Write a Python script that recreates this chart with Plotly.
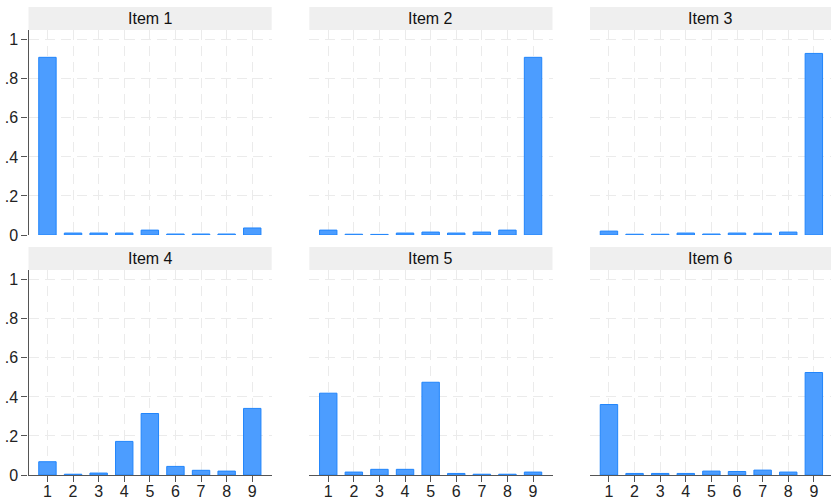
import plotly.graph_objects as go

categories = [1, 2, 3, 4, 5, 6, 7, 8, 9]
item_titles = ["Item 1", "Item 2", "Item 3", "Item 4", "Item 5", "Item 6"]

item1 = [0.910, 0.010, 0.010, 0.010, 0.025, 0.005, 0.005, 0.005, 0.036]
item2 = [0.025, 0.004, 0.003, 0.010, 0.015, 0.010, 0.015, 0.025, 0.910]
item3 = [0.020, 0.004, 0.004, 0.010, 0.005, 0.010, 0.009, 0.015, 0.930]
item4 = [0.068, 0.004, 0.010, 0.172, 0.315, 0.044, 0.024, 0.020, 0.341]
item5 = [0.419, 0.015, 0.029, 0.029, 0.475, 0.008, 0.004, 0.004, 0.015]
item6 = [0.361, 0.008, 0.008, 0.008, 0.020, 0.018, 0.025, 0.015, 0.525]

y_tickvals = [0, 0.2, 0.4, 0.6, 0.8, 1.0]
y_ticktext = ["0", ".2", ".4", ".6", ".8", "1"]
x_ticktext = ["1", "2", "3", "4", "5", "6", "7", "8", "9"]

series = [item1, item2, item3, item4, item5, item6]

W, H = 831, 498
col_px = [(28.5, 271.7), (309.3, 552.5), (590.0, 831.0)]
col_range = [[0.26, 9.76], [0.26, 9.76], [0.26, 9.67]]
row_px = [(30, 235), (270, 475)]
strip_px = [(7, 30), (247, 270)]

FONT = "Liberation Sans, Arial, Helvetica, sans-serif"
BAR_FILL = "#4c9dff"
BAR_LINE = "#2185fb"
GRID = "#ebebeb"
AXIS = "#555555"

fig = go.Figure()
layout = dict(
    template="none",
    width=W, height=H,
    margin=dict(l=0, r=0, t=0, b=0, pad=0, autoexpand=False),
    paper_bgcolor="white", plot_bgcolor="white",
    showlegend=False,
    font=dict(family=FONT, size=16, color="#222222"),
)
shapes = []
annotations = []

for i, vals in enumerate(series):
    r, c = divmod(i, 3)
    k = i + 1
    xs = "" if k == 1 else str(k)
    x0, x1 = col_px[c]
    yt, yb = row_px[r]
    fig.add_trace(go.Bar(
        x=categories, y=vals, width=0.68,
        marker=dict(color=BAR_FILL, line=dict(color=BAR_LINE, width=1)),
        xaxis="x" + xs, yaxis="y" + xs, hoverinfo="x+y",
    ))
    bottom = (r == 1)
    left = (c == 0)
    layout["xaxis" + xs] = dict(
        domain=[x0 / W, x1 / W], anchor="y" + xs, range=col_range[c],
        automargin=False,
        tickmode="array", tickvals=categories, ticktext=x_ticktext,
        showgrid=True, gridcolor=GRID, gridwidth=1.3, griddash="10px,6px",
        zeroline=False,
        showline=bottom, linecolor=AXIS, linewidth=1.3,
        ticks="outside" if bottom else "", ticklen=6, tickcolor=AXIS, tickwidth=1.3,
        ticklabelstandoff=-4,
        showticklabels=bottom, tickfont=dict(size=16, color="#222222"),
        fixedrange=True,
    )
    layout["yaxis" + xs] = dict(
        domain=[1 - yb / H, 1 - yt / H], anchor="x" + xs, range=[0, 1.05],
        automargin=False,
        tickmode="array", tickvals=y_tickvals, ticktext=y_ticktext,
        showgrid=True, gridcolor=GRID, gridwidth=1.3, griddash="10px,6px",
        zeroline=False,
        showline=left, linecolor=AXIS, linewidth=1.3,
        ticks="outside" if left else "", ticklen=6, tickcolor=AXIS, tickwidth=1.3,
        showticklabels=left, tickfont=dict(size=16, color="#222222"),
        fixedrange=True,
    )
    st, sb = strip_px[r]
    shapes.append(dict(
        type="rect", xref="paper", yref="paper",
        x0=x0 / W, x1=x1 / W, y0=1 - sb / H, y1=1 - st / H,
        fillcolor="#efefef", line=dict(width=0), layer="below",
    ))
    annotations.append(dict(
        text=item_titles[i], xref="paper", yref="paper",
        x=(x0 + x1) / 2 / W, y=1 - (st + sb) / 2 / H,
        xanchor="center", yanchor="middle", showarrow=False,
        font=dict(size=16, color="#111111", family=FONT),
    ))

layout["shapes"] = shapes
layout["annotations"] = annotations
fig.update_layout(**layout)
fig.write_html(
    "out.html",
    config={"displayModeBar": False},
    post_script="document.body.style.margin='0';document.body.style.padding='0';document.body.style.overflow='hidden';",
)
